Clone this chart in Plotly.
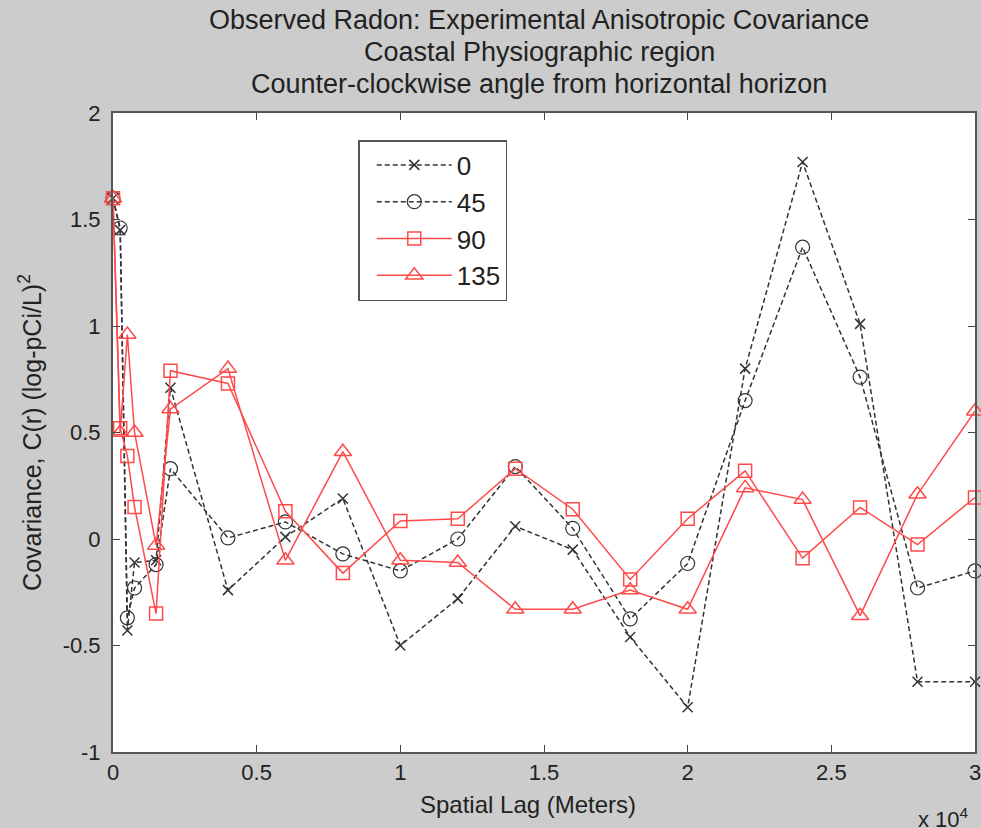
import plotly.graph_objects as go

lag_m = [0, 250, 500, 750, 1500, 2000, 4000, 6000, 8000, 10000, 12000,
         14000, 16000, 18000, 20000, 22000, 24000, 26000, 28000, 30000]
cov_0 = [1.60, 1.45, -0.43, -0.11, -0.10, 0.71, -0.24, 0.01, 0.19, -0.50, -0.28,
         0.06, -0.05, -0.46, -0.79, 0.80, 1.77, 1.01, -0.67, -0.67]
cov_45 = [1.60, 1.46, -0.37, -0.23, -0.12, 0.33, 0.005, 0.08, -0.07, -0.15, 0.00,
          0.34, 0.05, -0.375, -0.115, 0.65, 1.37, 0.76, -0.23, -0.15]
cov_90 = [1.60, 0.52, 0.39, 0.15, -0.35, 0.79, 0.73, 0.13, -0.16, 0.085, 0.095,
          0.33, 0.14, -0.19, 0.095, 0.32, -0.09, 0.148, -0.026, 0.195]
cov_135 = [1.60, 0.50, 0.96, 0.50, -0.03, 0.61, 0.80, -0.10, 0.41, -0.10, -0.11,
           -0.33, -0.33, -0.24, -0.33, 0.24, 0.185, -0.36, 0.21, 0.60]

angle_labels = ["0", "45", "90", "135"]
x_tick_vals = [0, 5000, 10000, 15000, 20000, 25000, 30000]
x_tick_text = ["0", "0.5", "1", "1.5", "2", "2.5", "3"]
y_tick_vals = [-1, -0.5, 0, 0.5, 1, 1.5, 2]
y_tick_text = ["-1", "-0.5", "0", "0.5", "1", "1.5", "2"]

FONT = "Liberation Sans, Arial, Helvetica, sans-serif"
TXT = "#222"
BLACK = "#333333"
RED = "#ff4a4a"

fig = go.Figure()
fig.add_trace(go.Scatter(
    x=lag_m, y=cov_0, name=angle_labels[0], mode="lines+markers", cliponaxis=False,
    line=dict(color=BLACK, width=1.5, dash="5px,3px"),
    marker=dict(symbol="x-thin-open", size=10, line=dict(color=BLACK, width=1.5), color=BLACK)))
fig.add_trace(go.Scatter(
    x=lag_m, y=cov_45, name=angle_labels[1], mode="lines+markers", cliponaxis=False,
    line=dict(color=BLACK, width=1.5, dash="5px,3px"),
    marker=dict(symbol="circle-open", size=14, line=dict(color=BLACK, width=1.2), color=BLACK)))
fig.add_trace(go.Scatter(
    x=lag_m, y=cov_90, name=angle_labels[2], mode="lines+markers", cliponaxis=False,
    line=dict(color=RED, width=1.5),
    marker=dict(symbol="square-open", size=13, line=dict(color=RED, width=1.5), color=RED)))
fig.add_trace(go.Scatter(
    x=lag_m, y=cov_135, name=angle_labels[3], mode="lines+markers", cliponaxis=False,
    line=dict(color=RED, width=1.5),
    marker=dict(symbol="triangle-up-open", size=15, line=dict(color=RED, width=1.5), color=RED)))

# plot area: left 113px, right 981px, top 113px, bottom 752px
titles = ["Observed Radon: Experimental Anisotropic Covariance",
          "Coastal Physiographic region",
          "Counter-clockwise angle from horizontal horizon"]
title_px = [20, 52, 84]
annotations = []
for t, py in zip(titles, title_px):
    annotations.append(dict(text=t, xref="paper", yref="paper", x=(542 - 113) / 868, y=(752 - py) / 639,
                            showarrow=False, xanchor="center", yanchor="middle",
                            font=dict(size=27, family=FONT, color=TXT)))
annotations.append(dict(text="Spatial Lag (Meters)", xref="paper", yref="paper",
                        x=(531 - 113) / 868, y=(752 - 804) / 639,
                        showarrow=False, xanchor="center", yanchor="middle",
                        font=dict(size=24, family=FONT, color=TXT)))
annotations.append(dict(text="x 10<sup>4</sup>", xref="paper", yref="paper",
                        x=(922 - 113) / 868, y=(752 - 818) / 639,
                        showarrow=False, xanchor="left", yanchor="middle",
                        font=dict(size=22, family=FONT, color=TXT)))

fig.update_layout(
    width=981, height=828,
    margin=dict(l=113, r=0, t=113, b=76),
    paper_bgcolor="#cccccc", plot_bgcolor="white",
    font=dict(family=FONT, size=22, color=TXT),
    showlegend=True,
    legend=dict(x=(360 - 113) / 868, y=(752 - 140) / 639, xanchor="left", yanchor="top",
                bgcolor="white", bordercolor="#555", borderwidth=1.5,
                font=dict(size=26, family=FONT, color=TXT),
                itemwidth=75, indentation=12),
    annotations=annotations,
)
fig.update_xaxes(range=[0, 30000], tickvals=x_tick_vals, ticktext=x_tick_text,
                 ticks="inside", ticklen=7, tickcolor="#444", mirror="ticks",
                 showline=True, linecolor="#555", linewidth=2, showgrid=False, zeroline=False,
                 ticklabeloverflow="allow",
                 tickfont=dict(size=22, family=FONT, color=TXT))
fig.update_yaxes(range=[-1, 2], tickvals=y_tick_vals, ticktext=y_tick_text,
                 ticks="inside", ticklen=7, tickcolor="#444", mirror="ticks",
                 showline=True, linecolor="#555", linewidth=2, showgrid=False, zeroline=False,
                 ticklabelstandoff=6,
                 tickfont=dict(size=22, family=FONT, color=TXT),
                 title=dict(text="Covariance, C(r) (log-pCi/L)<sup>2</sup>",
                            font=dict(size=25, family=FONT, color=TXT), standoff=14))

fig.write_html("out.html", config={"displayModeBar": False},
               post_script="document.body.style.margin='0';document.body.style.overflow='hidden';")
